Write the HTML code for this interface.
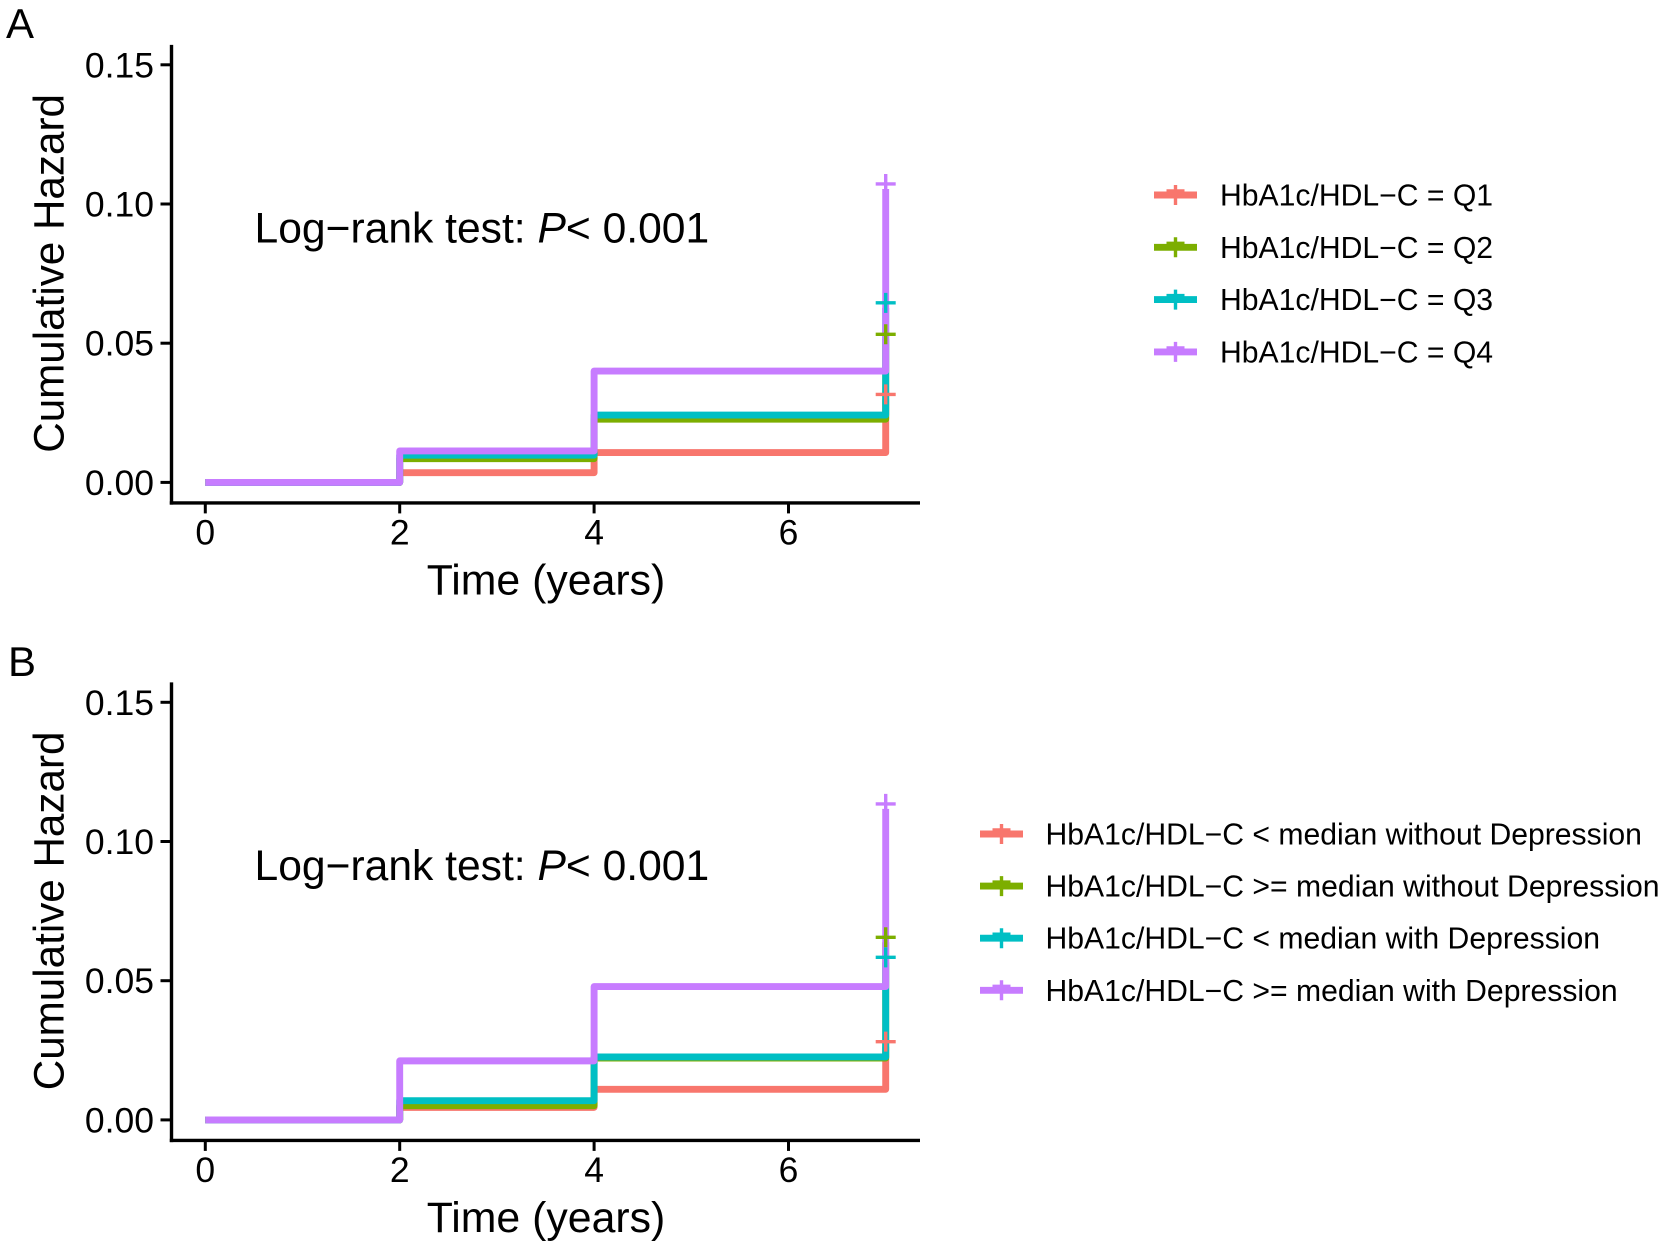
<!DOCTYPE html>
<html lang="en">
<head>
<meta charset="utf-8">
<title>Cumulative hazard curves</title>
<style>
  html, body { margin: 0; padding: 0; background: #fff; }
  svg { display: block; }
  text { font-family: "Liberation Sans", Arial, sans-serif; fill: #000; }
</style>
</head>
<body>
<svg id="chart" xmlns="http://www.w3.org/2000/svg" width="1666" height="1247" viewBox="0 0 1666 1247"></svg>
<script>
const times = [0, 2, 4, 7];
const censorTime = 7;
const xTickLabels = [0, 2, 4, 6];
const yTickLabels = [0.00, 0.05, 0.10, 0.15];
const seriesColors = ['#F8766D', '#7CAE00', '#00BFC4', '#C77CFF'];

const panelAQ1 = [0, 0.0035, 0.0107, 0.0298];
const panelAQ2 = [0, 0.0085, 0.0227, 0.0514];
const panelAQ3 = [0, 0.0098, 0.0242, 0.0627];
const panelAQ4 = [0, 0.0113, 0.0400, 0.1054];
const panelACensor = [0.0316, 0.0532, 0.0645, 0.1072];
const panelALegend = ['HbA1c/HDL\u2212C = Q1', 'HbA1c/HDL\u2212C = Q2', 'HbA1c/HDL\u2212C = Q3', 'HbA1c/HDL\u2212C = Q4'];

const panelBQ1 = [0, 0.0045, 0.0110, 0.0263];
const panelBQ2 = [0, 0.0051, 0.0222, 0.0638];
const panelBQ3 = [0, 0.0069, 0.0226, 0.0566];
const panelBQ4 = [0, 0.0212, 0.0479, 0.1117];
const panelBCensor = [0.0281, 0.0656, 0.0584, 0.1135];
const panelBLegend = ['HbA1c/HDL\u2212C < median without Depression', 'HbA1c/HDL\u2212C >= median without Depression', 'HbA1c/HDL\u2212C < median with Depression', 'HbA1c/HDL\u2212C >= median with Depression'];

const NS = 'http://www.w3.org/2000/svg';
const root = document.getElementById('chart');

function make(tag, attrs, parent, content) {
  const node = document.createElementNS(NS, tag);
  for (const key in attrs) node.setAttribute(key, attrs[key]);
  if (content !== undefined) node.textContent = content;
  parent.appendChild(node);
  return node;
}

function drawPanel(cfg) {
  const g = make('g', {}, root);
  
  

  const xScale = function (t) { return 205.3 + (t - 0) * 97.2; };
  const yScale = function (v) { return cfg.y0 - v * 2784; };
  const axisBottom = yScale(0) + 20.5;
  const axisTop = yScale(0) - 437.5;

  const letter = make('text', { x: cfg.letterX, y: cfg.letterY, 'font-size': 42 }, g, cfg.letter);
  
  

  const yAxis = make('line', { x1: 171.5, x2: 171.5, y1: axisTop, y2: axisBottom + 1.7, stroke: '#000', 'stroke-width': 3.4 }, g);
  
  

  const xAxis = make('line', { x1: 169.8, x2: 920, y1: axisBottom, y2: axisBottom, stroke: '#000', 'stroke-width': 3.4 }, g);
  
  

  yTickLabels.forEach(function (v) {
    const tick = make('line', { x1: 160.5, x2: 171, y1: yScale(v), y2: yScale(v), stroke: '#000', 'stroke-width': 3 }, g);
    
    
    const label = make('text', { x: 154, y: yScale(v) + 12.5, 'font-size': 35.5, 'text-anchor': 'end' }, g, v.toFixed(2));
    
    
  });

  xTickLabels.forEach(function (t) {
    const tick = make('line', { x1: xScale(t), x2: xScale(t), y1: axisBottom, y2: axisBottom + 10.5, stroke: '#000', 'stroke-width': 3 }, g);
    
    
    const label = make('text', { x: xScale(t), y: yScale(0) + 62, 'font-size': 35.5, 'text-anchor': 'middle' }, g, String(t));
    
    
  });

  const yTitle = make('text', { transform: 'translate(63.5,' + (yScale(0) - 209) + ') rotate(-90)', 'font-size': 42.2, 'text-anchor': 'middle' }, g, 'Cumulative Hazard');
  
  

  const xTitle = make('text', { x: 546, y: yScale(0) + 112, 'font-size': 42.8, 'text-anchor': 'middle' }, g, 'Time (years)');
  
  

  const note = make('text', { x: 254.5, y: yScale(0) - 240, 'font-size': 42.6 }, g);
  
  
  make('tspan', {}, note, 'Log\u2212rank test: ');
  make('tspan', { 'font-style': 'italic' }, note, 'P');
  make('tspan', {}, note, '< 0.001');

  cfg.series.forEach(function (values, i) {
    let d = 'M' + xScale(times[0]) + ' ' + yScale(values[0]);
    for (let k = 1; k < times.length; k++) {
      d += 'H' + xScale(times[k]) + 'V' + yScale(values[k]);
    }
    const path = make('path', { d: d, fill: 'none', stroke: seriesColors[i], 'stroke-width': 6.9, 'stroke-linejoin': 'round' }, g);
    
    
  });

  cfg.censor.forEach(function (v, i) {
    const cx = xScale(censorTime);
    const cy = yScale(v);
    const plus = make('path', { d: 'M' + (cx - 10) + ' ' + cy + 'H' + (cx + 10) + 'M' + cx + ' ' + (cy - 10) + 'V' + (cy + 10), fill: 'none', stroke: seriesColors[i], 'stroke-width': 3.4 }, g);
    
    
  });

  cfg.legend.forEach(function (text, i) {
    const rowY = cfg.legendY[0] + i * cfg.legendStep;
    const entry = make('g', {}, g);
    
    
    const mid = cfg.legendX + 21.5;
    make('path', {
      d: 'M' + cfg.legendX + ' ' + rowY + 'H' + (cfg.legendX + 43),
      fill: 'none', stroke: seriesColors[i], 'stroke-width': 6.9
    }, entry);
    make('path', {
      d: 'M' + (mid - 9) + ' ' + (rowY - 4) + 'H' + (mid + 9) + 'M' + mid + ' ' + (rowY - 10) + 'V' + (rowY + 10),
      fill: 'none', stroke: seriesColors[i], 'stroke-width': 3.4
    }, entry);
    make('text', { x: cfg.legendX + cfg.textGap, y: rowY + 10.5, 'font-size': 30.15 }, entry, text);
  });
}

drawPanel({
  key: 'panel-a', letter: 'A', letterX: 6, letterY: 38, y0: 482.4,
  series: [panelAQ1, panelAQ2, panelAQ3, panelAQ4], censor: panelACensor,
  legend: panelALegend, legendX: 1154, legendY: [195], legendStep: 52.3, textGap: 66
});
drawPanel({
  key: 'panel-b', letter: 'B', letterX: 8, letterY: 676, y0: 1119.9,
  series: [panelBQ1, panelBQ2, panelBQ3, panelBQ4], censor: panelBCensor,
  legend: panelBLegend, legendX: 980, legendY: [834], legendStep: 52.1, textGap: 65.5
});
</script>
</body>
</html>
